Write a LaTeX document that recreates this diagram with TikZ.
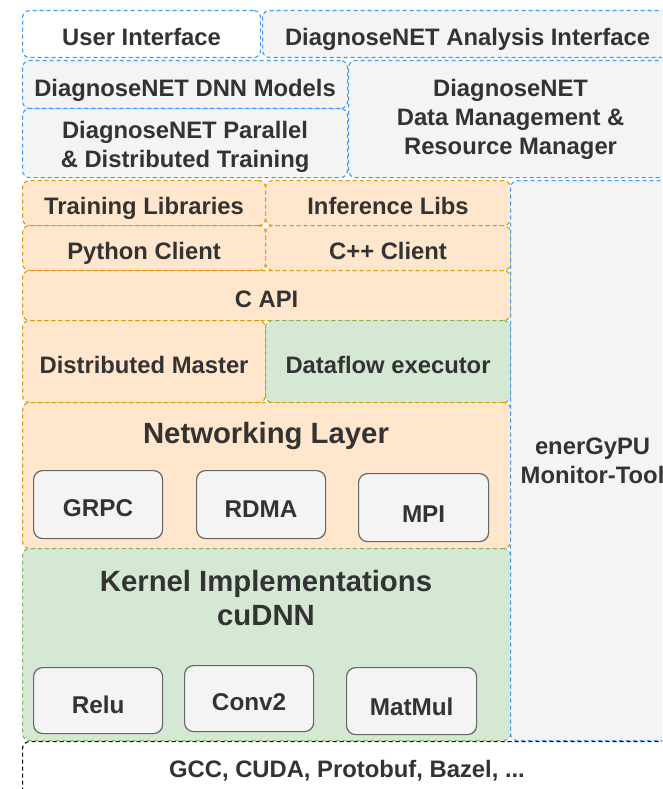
\documentclass[tikz,border=0pt]{standalone}
\usepackage{fontspec}
\setmainfont{Liberation Sans}
\definecolor{txt}{HTML}{333333}
\definecolor{framebl}{HTML}{3D9BFF}
\definecolor{greyfill}{HTML}{F4F4F4}
\definecolor{orfill}{HTML}{FFE6CC}
\definecolor{ordraw}{HTML}{D79B00}
\definecolor{grfill}{HTML}{D5E8D4}
\definecolor{grdraw}{HTML}{82B366}
\definecolor{unitdraw}{HTML}{666666}
\tikzset{
  every node/.style={font=\fontsize{23.8}{29}\selectfont\bfseries, text=txt, align=center, inner sep=0pt},
  oneline/.style={text height=23pt, text depth=0pt},
  panel/.style={dash pattern=on 4pt off 3pt, line width=1.1pt, rounded corners=7pt, anchor=north west},
  uipanel/.style={panel, draw=framebl, fill=#1},
  orpanel/.style={panel, draw=ordraw, fill=orfill, oneline},
  grpanel/.style={panel, draw=grdraw, fill=grfill, oneline},
  toolpanel/.style={panel, draw=black, fill=white},
  unitbox/.style={draw=unitdraw, fill=greyfill, line width=1.2pt, rounded corners=9pt, anchor=north west,
    font=\fontsize{24.3}{29}\selectfont\bfseries, oneline},
  bigtitle/.style={font=\fontsize{29.3}{34}\selectfont\bfseries},
}
\begin{document}
\begin{tikzpicture}[x=1pt,y=-1pt]
\useasboundingbox (0,0) rectangle (662,789);
\clip (0,0) rectangle (662,789);
\fill[white] (0,0) rectangle (662,789);

% application layer
\node[uipanel=white, oneline, minimum width=238pt, minimum height=47pt] (ui) at (22,10) {User Interface};
\node[uipanel=greyfill, oneline, minimum width=410pt, minimum height=47pt] (ana) at (262,10) {DiagnoseNET Analysis Interface};
\node[uipanel=greyfill, oneline, minimum width=325pt, minimum height=48pt] (dnn) at (22,60) {DiagnoseNET DNN Models};
\node[uipanel=greyfill, minimum width=325pt, minimum height=69pt] (par) at (22,108) {\raisebox{-10pt}[0pt][0pt]{\begin{tabular}{@{}c@{}}DiagnoseNET Parallel\\ \& Distributed Training\end{tabular}}};
\node[uipanel=greyfill, minimum width=324pt, minimum height=117pt] (dm) at (348,60) {DiagnoseNET\\ Data Management \&\\ Resource Manager};

% framework stack
\node[orpanel, minimum width=243pt, minimum height=45pt] (tl) at (22,180) {Training Libraries};
\node[orpanel, minimum width=245pt, minimum height=45pt] (il) at (265,180) {Inference Libs};
\node[orpanel, minimum width=243pt, minimum height=45pt] (py) at (22,225) {Python Client};
\node[orpanel, minimum width=245pt, minimum height=45pt] (cpp) at (265,225) {C++ Client};
\node[orpanel, minimum width=488pt, minimum height=50pt] (capi) at (22,270) {C API};
\node[orpanel, minimum width=243pt, minimum height=82pt] (dmaster) at (22,320) {Distributed Master};
\node[grpanel, minimum width=245pt, minimum height=82pt] (dflow) at (265,320) {Dataflow executor};
\node[orpanel, minimum width=488pt, minimum height=146pt] (net) at (22,402) {};
\node[grpanel, minimum width=488pt, minimum height=192pt] (kern) at (22,548) {};
\node[bigtitle] (nettitle) at (266,436) {Networking Layer};
\node[bigtitle] (kerntitle) at (266,598) {Kernel Implementations\\ cuDNN};

% monitoring column
\node[uipanel=greyfill, minimum width=164pt, minimum height=560pt] (mon) at (510,180) {enerGyPU\\ Monitor-Tool};

% toolchain
\node[toolpanel, minimum width=650pt, minimum height=70pt] (tools) at (22,741) {};
\node (toolstext) at (347,771) {GCC, CUDA, Protobuf, Bazel, ...};

% networking units
\node[unitbox, minimum width=129pt, minimum height=68pt] (grpc) at (33,470) {GRPC};
\node[unitbox, minimum width=129pt, minimum height=68pt] (rdma) at (196,470) {\raisebox{-1pt}{RDMA}};
\node[unitbox, minimum width=130pt, minimum height=68pt] (mpi) at (358,473) {\raisebox{-3pt}{MPI}};

% kernel units
\node[unitbox, minimum width=129pt, minimum height=66pt] (relu) at (33,667) {\raisebox{-1pt}{Relu}};
\node[unitbox, minimum width=129pt, minimum height=66pt] (conv) at (184,665) {Conv2};
\node[unitbox, minimum width=130pt, minimum height=67pt] (matmul) at (346,667) {\raisebox{-3pt}{MatMul}};
\end{tikzpicture}
\end{document}
